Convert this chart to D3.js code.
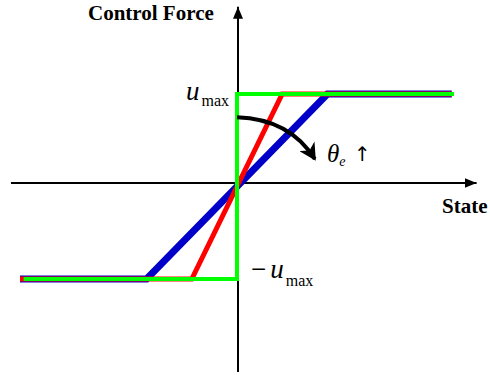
<!DOCTYPE html>
<html>
<head>
<meta charset="utf-8">
<script src="https://cdn.jsdelivr.net/npm/d3@7"></script>
<style>
  body { margin: 0; background: #fff; }
  text { font-family: "Liberation Serif", "Times New Roman", serif; }
</style>
</head>
<body>
<div id="main"></div>
<script>
var width = 490;
var height = 376;

// state values of each curve (x) and control force (y), u_max = 1
var blueState = [-4.8, -2, 2, 4.75];
var blueForce = [-1, -1, 1, 1];
var redState = [-4.8, -1, 1, 4.75];
var redForce = [-1, -1, 1, 1];
var greenState = [-4.72, 0, 0, 4.8];
var greenForce = [-1, -1, 1, 1];

// axis extents in data units
var xAxisExtent = [-5, 5.3];
var yAxisExtent = [-1.97, 1.98];

// curved arrow (start, control, end) in data units
var arcState = [0, 1.17, 1.72];
var arcForce = [0.74, 0.72, 0.27];

var x = d3.scaleLinear().domain([-4.8, 4.8]).range([20, 454]);
var y = d3.scaleLinear().domain([-1, 0, 1]).range([279, 183, 94]);

function toPoints(xs, ys){
  return xs.map(function(v, i){ return [x(v), y(ys[i])]; });
}

function init(){
  var svg = d3.select("#main")
    .append("svg")
    .attr("width", width)
    .attr("height", height);

  var defs = svg.append("defs");
  defs.append("marker")
    .attr("id", "axisHead")
    .attr("markerUnits", "userSpaceOnUse")
    .attr("viewBox", "0 0 12 10")
    .attr("refX", 12).attr("refY", 5)
    .attr("markerWidth", 12).attr("markerHeight", 10)
    .attr("orient", "auto")
    .append("path").attr("d", "M0,0L12,5L0,10Z").attr("fill", "#000");
  defs.append("marker")
    .attr("id", "arcHead")
    .attr("markerUnits", "userSpaceOnUse")
    .attr("viewBox", "0 0 18 18")
    .attr("refX", 15).attr("refY", 9)
    .attr("markerWidth", 18).attr("markerHeight", 18)
    .attr("orient", "auto")
    .append("path").attr("d", "M0,0L17,9L0,18L5,9Z").attr("fill", "#000");

  // axes
  svg.append("line")
    .attr("x1", x(xAxisExtent[0])).attr("x2", x(xAxisExtent[1]))
    .attr("y1", y(0)).attr("y2", y(0))
    .attr("stroke", "#000").attr("stroke-width", 2)
    .attr("marker-end", "url(#axisHead)");
  svg.append("line")
    .attr("x1", x(0) + 1).attr("x2", x(0) + 1)
    .attr("y1", y(yAxisExtent[0])).attr("y2", y(yAxisExtent[1]))
    .attr("stroke", "#000").attr("stroke-width", 2)
    .attr("marker-end", "url(#axisHead)");

  var line = d3.line();
  var series = [
    {pts: toPoints(blueState, blueForce), color: "#0000c8", w: 7},
    {pts: toPoints(redState, redForce), color: "#ff0000", w: 5},
    {pts: toPoints(greenState, greenForce), color: "#00ff00", w: 4}
  ];
  svg.selectAll(".curve")
    .data(series)
    .enter()
    .append("path")
    .attr("class", "curve")
    .attr("d", function(d){ return line(d.pts); })
    .attr("fill", "none")
    .attr("stroke", function(d){ return d.color; })
    .attr("stroke-width", function(d){ return d.w; });

  // curved arrow
  var p = toPoints(arcState, arcForce);
  svg.append("path")
    .attr("d", "M" + p[0] + "Q" + p[1] + " " + p[2])
    .attr("fill", "none")
    .attr("stroke", "#000")
    .attr("stroke-width", 4)
    .attr("marker-end", "url(#arcHead)");

  // labels
  svg.append("text")
    .attr("x", 88).attr("y", 20)
    .attr("font-size", 21).attr("font-weight", "bold")
    .text("Control Force");
  svg.append("text")
    .attr("x", 442).attr("y", 213)
    .attr("font-size", 21).attr("font-weight", "bold")
    .text("State");

  var umax = svg.append("text").attr("x", 186).attr("y", y(1) + 6);
  umax.append("tspan").attr("font-size", 27).attr("font-style", "italic").text("u");
  umax.append("tspan").attr("font-size", 16).attr("dx", 2).attr("dy", 6).text("max");

  var numax = svg.append("text").attr("x", 251).attr("y", y(-1) - 1);
  numax.append("tspan").attr("font-size", 27).text("\u2212");
  numax.append("tspan").attr("font-size", 27).attr("dx", 4).attr("font-style", "italic").text("u");
  numax.append("tspan").attr("font-size", 16).attr("dx", 2).attr("dy", 8).text("max");

  var theta = svg.append("text").attr("x", 327).attr("y", 162);
  theta.append("tspan").attr("font-size", 25).attr("font-style", "italic").text("\u03b8");
  theta.append("tspan").attr("font-size", 14).attr("font-style", "italic").attr("dy", 4).text("e");

  svg.append("text")
    .attr("x", 354).attr("y", 161)
    .style("font-family", "'DejaVu Sans', sans-serif")
    .attr("font-size", 20)
    .attr("fill", "#000")
    .text("\u2191");
}

init();
</script>
</body>
</html>
